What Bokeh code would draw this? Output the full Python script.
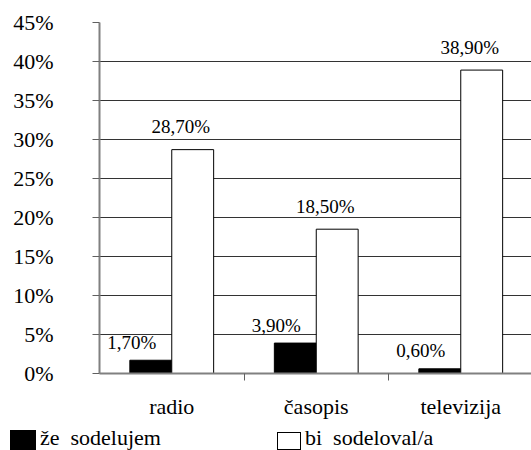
from bokeh.plotting import figure
from bokeh.layouts import column
from bokeh.models import FixedTicker, Range1d, Div
from bokeh.core.properties import value
from bokeh.embed import file_html
from bokeh.resources import INLINE

# ---- data ----
categories = ["radio", "časopis", "televizija"]
ze_sodelujem = [1.7, 3.9, 0.6]
bi_sodeloval = [28.7, 18.5, 38.9]
y_ticks = [0, 5, 10, 15, 20, 25, 30, 35, 40, 45]
series_names = ["že  sodelujem", "bi  sodeloval/a"]
series_colors = ["black", "white"]

FONT = "Liberation Serif, 'Times New Roman', 'DejaVu Serif', serif"
CAT_PX = 144.5          # pixels per category
FRAME_W = 432
BAR_W = 0.29
OFF = 0.145

p = figure(width=531, height=421, output_backend="svg", toolbar_location=None,
           x_range=Range1d(-0.5, -0.5 + FRAME_W / CAT_PX), y_range=Range1d(0, 45),
           min_border_left=99, min_border_right=0, min_border_top=22,
           min_border_bottom=48)
p.outline_line_color = None
p.background_fill_color = "white"

idx = list(range(len(categories)))
x_black = [i - OFF for i in idx]
x_white = [i + OFF for i in idx]

p.vbar(x=x_black, top=ze_sodelujem, width=BAR_W, fill_color=series_colors[0],
       line_color="black", line_width=1)
p.vbar(x=x_white, top=bi_sodeloval, width=BAR_W, fill_color=series_colors[1],
       line_color="black", line_width=1)

def fmt(v):
    return f"{v:.2f}".replace(".", ",") + "%"

p.text(x=x_black, y=ze_sodelujem, text=[fmt(v) for v in ze_sodelujem],
       x_offset=-19, y_offset=-18, text_align="center", text_baseline="middle",
       text_font=value(FONT), text_font_size="19px", text_color="black")
p.text(x=x_white, y=bi_sodeloval, text=[fmt(v) for v in bi_sodeloval],
       x_offset=-12, y_offset=-23, text_align="center", text_baseline="middle",
       text_font=value(FONT), text_font_size="19px", text_color="black")

# grid
p.xgrid.visible = False
p.ygrid.ticker = FixedTicker(ticks=y_ticks)
p.ygrid.grid_line_color = "#333333"
p.ygrid.grid_line_width = 1

# y axis
ya = p.yaxis[0]
ya.ticker = FixedTicker(ticks=y_ticks)
ya.major_label_overrides = {t: f"{t}%" for t in y_ticks}
ya.major_label_text_font = FONT
ya.major_label_text_font_size = "22px"
ya.major_label_text_color = "black"
ya.major_tick_out = 7
ya.major_tick_in = 0
ya.minor_tick_line_color = None
ya.major_label_standoff = 39
ya.axis_line_color = "#808080"
ya.axis_line_width = 2
ya.major_tick_line_color = "#606060"

# x axis
xa = p.xaxis[0]
xa.ticker = FixedTicker(ticks=idx, minor_ticks=[i + 0.5 for i in idx[:-1]])
xa.major_label_overrides = {i: c for i, c in zip(idx, categories)}
xa.major_label_text_font = FONT
xa.major_label_text_font_size = "22px"
xa.major_label_text_color = "black"
xa.major_tick_out = 0
xa.major_tick_in = 0
xa.major_tick_line_color = None
xa.minor_tick_out = 7
xa.minor_tick_in = 0
xa.minor_tick_line_color = "#606060"
xa.major_label_standoff = 13
xa.axis_line_color = "#808080"
xa.axis_line_width = 2

# ---- legend strip (HTML) ----
css_font = ("font-family:'Liberation Serif','Times New Roman',serif;font-size:22px;"
            "line-height:22px;color:black;white-space:pre;")
legend_html = (
    '<div style="position:relative;width:531px;height:29px;overflow:hidden;">'
    f'<span style="position:absolute;left:10px;top:9px;width:26px;height:20px;'
    f'background:{series_colors[0]};border:1px solid black;box-sizing:border-box;"></span>'
    f'<span style="position:absolute;left:40px;top:6px;{css_font}">{series_names[0]}</span>'
    f'<span style="position:absolute;left:277px;top:11px;width:24px;height:18px;'
    f'background:{series_colors[1]};border:1.5px solid black;box-sizing:border-box;"></span>'
    f'<span style="position:absolute;left:305px;top:6px;{css_font}">{series_names[1]}</span>'
    '</div>'
)
legend_div = Div(text=legend_html, width=531, height=29, margin=0)

layout = column(p, legend_div, spacing=0)
open("out.html", "w").write(file_html(layout, INLINE))
